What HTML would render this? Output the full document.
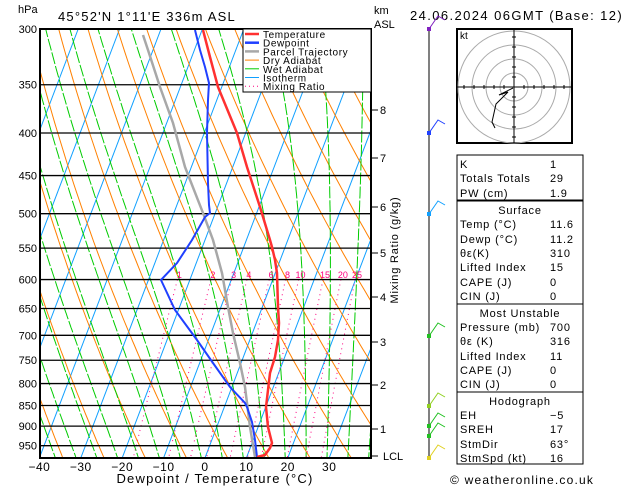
<!DOCTYPE html><html><head><style>
body{margin:0;background:#fff;font-family:"Liberation Sans",sans-serif}
svg text{font-family:"Liberation Sans",sans-serif}
</style></head><body>
<svg id="s" width="629" height="486" xmlns="http://www.w3.org/2000/svg">
<defs><clipPath id="c"><rect x="40" y="29" width="331" height="429"/></clipPath></defs>
<g id="bg" clip-path="url(#c)"></g>
<g id="fg"></g>
</svg>
<script>
var NS="http://www.w3.org/2000/svg",bg=document.getElementById('bg'),fg=document.getElementById('fg');
function Y(p){return 29+361.5*Math.log(p/300);}
function X(T,p){return 205+4.14*T+0.38*(458-Y(p));}
function el(par,tag,a,txt){var e=document.createElementNS(NS,tag);for(var k in a)e.setAttribute(k,a[k]);if(txt!=null)e.textContent=txt;par.appendChild(e);return e;}
function poly(par,pts,st,w,da){el(par,'polyline',{points:pts.map(function(q){return q[0].toFixed(1)+','+q[1].toFixed(1)}).join(' '),fill:'none',stroke:st,'stroke-width':w,'stroke-dasharray':da||'none'});}
for(var T=-120;T<=40;T+=10){var a=[];[300,1000].forEach(function(p){a.push([X(T,p),Y(p)])});poly(bg,a,'#10a0ff',1);}
for(var th=200;th<=480;th+=10){var a=[];for(var p=280;p<=1000;p+=10){var t=th*Math.pow(p/1000,0.286)-273.15;a.push([X(t,p),Y(p)]);}poly(bg,a,'#ff8000',1);}
function es(t){return 6.112*Math.exp(17.67*t/(t+243.5));}
function dTdp(T,p){var t=T-273.15,e=es(t),rs=0.622*e/(p-e),Rd=287,Lv=2.5e6,cp=1005;return (Rd*T+Lv*rs)/(p*(cp+Lv*Lv*rs*0.622/(Rd*T*T)));}
for(var tw=-40;tw<=40;tw+=5){var a=[],T=tw+273.15;for(var p=1000;p>=280;p-=5){a.push([X(T-273.15,p),Y(p)]);T-=5*dTdp(T,p);}poly(bg,a,'#00cc00',1,'12,2');}
var ws=[1,2,3,4,6,8,10,15,20,25];
ws.forEach(function(w){var a=[];for(var p=600;p<=1000;p+=10){var e=w*p/(622+w),l=Math.log(e/6.112),td=243.5*l/(17.67-l);a.push([X(td,p),Y(p)]);}poly(bg,a,'#ff0080',1,'1,4');
var e=w*600/(622+w),l=Math.log(e/6.112),td=243.5*l/(17.67-l);el(fg,'text',{x:X(td,600)+2,y:278,'font-size':9,fill:'#ff0080','text-anchor':'middle'},String(w));});
[300,350,400,450,500,550,600,650,700,750,800,850,900,950].forEach(function(p){el(fg,'line',{x1:40,x2:371,y1:Y(p),y2:Y(p),stroke:'#000','stroke-width':1.3});el(fg,'text',{x:37,y:Y(p)+4,'font-size':11,'text-anchor':'end'},String(p));});
poly(fg,[[255,457],[250,427],[245,387],[240,363],[233,333],[228,307],[222,273],[213,240],[203,213],[185,167],[173,123],[160,87],[148,50],[143,35]],'#a8a8a8',2.5);
poly(fg,[[257,457],[255,440],[252,422],[247,407],[245,403],[230,387],[213,363],[197,340],[175,310],[161,280],[177,263],[192,240],[205,217],[210,213],[209,205],[208,183],[207,133],[208,100],[209,83],[205,67],[200,50],[195,30]],'#2040ff',2);
poly(fg,[[257,457],[265,455],[270,448],[272,443],[268,427],[266,407],[268,390],[270,373],[275,357],[278,340],[279,323],[278,307],[277,273],[275,260],[272,247],[270,240],[260,207],[247,167],[237,133],[218,87],[210,57],[203,30]],'#ff3030',2.5);
el(fg,'rect',{x:40,y:29,width:331,height:429,fill:'none',stroke:'#000','stroke-width':2});
for(var T=-40;T<=30;T+=10){var x=205+4.14*T;el(fg,'text',{x:x,y:471,'font-size':12,'text-anchor':'middle','letter-spacing':'0.5'},(T<0?'\u2212':'')+Math.abs(T));}
el(fg,'text',{x:215,y:483,'font-size':13,'text-anchor':'middle','letter-spacing':'1.2'},'Dewpoint / Temperature (°C)');
el(fg,'text',{x:18,y:13,'font-size':11},'hPa');
el(fg,'text',{x:58,y:21,'font-size':13,'letter-spacing':'1.2'},"45°52'N  1°11'E  336m  ASL");
el(fg,'text',{x:374,y:14,'font-size':11},'km');
el(fg,'text',{x:374,y:28,'font-size':11},'ASL');
el(fg,'text',{x:410,y:20,'font-size':13,'letter-spacing':'1.4'},'24.06.2024  06GMT  (Base: 12)');
[[8,110],[7,158],[6,207],[5,253],[4,297],[3,342],[2,385],[1,429]].forEach(function(k){el(fg,'line',{x1:371,x2:378,y1:k[1],y2:k[1],stroke:'#000'});el(fg,'text',{x:380,y:k[1]+4,'font-size':11},String(k[0]));});
el(fg,'line',{x1:371,x2:378,y1:456,y2:456,stroke:'#000'});el(fg,'text',{x:383,y:460,'font-size':11},'LCL');
el(fg,'text',{x:398,y:250,'font-size':11,'text-anchor':'middle','letter-spacing':'0.8',transform:'rotate(-90 398 250)'},'Mixing Ratio (g/kg)');
el(fg,'rect',{x:243,y:29,width:128,height:63,fill:'#fff',stroke:'#000','stroke-width':1});
[['Temperature','#ff3030',2.5,''],['Dewpoint','#2040ff',2.5,''],['Parcel Trajectory','#a8a8a8',2.5,''],['Dry Adiabat','#ff8000',1,''],['Wet Adiabat','#00cc00',1,''],['Isotherm','#10a0ff',1,''],['Mixing Ratio','#ff0080',1,'1,3']].forEach(function(l,i){var y=34+i*8.7;el(fg,'line',{x1:245,x2:259,y1:y,y2:y,stroke:l[1],'stroke-width':l[2],'stroke-dasharray':l[3]||'none'});el(fg,'text',{x:263,y:y+4,'font-size':10,'letter-spacing':'0.6'},l[0]);});
el(fg,'line',{x1:429,x2:429,y1:29,y2:458,stroke:'#000'});
[[29,'#8020c0'],[133,'#2040ff'],[214,'#10a0ff'],[336,'#20c020'],[406,'#90d020'],[426,'#20c020'],[436,'#20c020'],[458,'#e0d020']].forEach(function(b){el(fg,'rect',{x:427,y:b[0]-2,width:4,height:4,fill:b[1]});poly(fg,[[429,b[0]],[438,b[0]-13],[445,b[0]-9]],b[1],1);});
el(fg,'rect',{x:457,y:29,width:115,height:114,fill:'#fff',stroke:'#000','stroke-width':2});
var hc=[514,87];[14,28,42,56].forEach(function(r){el(fg,'circle',{cx:hc[0],cy:hc[1],r:r,fill:'none',stroke:'#aaa'});});
el(fg,'line',{x1:457,x2:572,y1:87,y2:87,stroke:'#000'});el(fg,'line',{x1:514,x2:514,y1:29,y2:143,stroke:'#000'});
for(var i=-5;i<=5;i++){el(fg,'line',{x1:514+i*10,x2:514+i*10,y1:85,y2:89,stroke:'#000'});el(fg,'line',{y1:87+i*10,y2:87+i*10,x1:512,x2:516,stroke:'#000'});}
el(fg,'text',{x:460,y:39,'font-size':10},'kt');
poly(fg,[[513,88],[499,95],[508,92],[496,104],[492,122],[495,128]],'#000',1);
function box(y,h){el(fg,'rect',{x:457,y:y,width:126,height:h,fill:'none',stroke:'#000'});}
box(155,45);box(201,103);box(304,88);box(392,72);
function row(y,a,b){el(fg,'text',{x:460,y:y,'font-size':11,'letter-spacing':'0.8'},a);el(fg,'text',{x:550,y:y,'font-size':11,'letter-spacing':'0.8'},b);}
function hdr(y,t){el(fg,'text',{x:520,y:y,'font-size':11,'text-anchor':'middle','letter-spacing':'0.8'},t);}
row(168,'K','1');row(182,'Totals Totals','29');row(197,'PW (cm)','1.9');
hdr(214,'Surface');row(228,'Temp (°C)','11.6');row(243,'Dewp (°C)','11.2');row(257,'θε(K)','310');row(271,'Lifted Index','15');row(286,'CAPE (J)','0');row(300,'CIN (J)','0');
hdr(317,'Most Unstable');row(331,'Pressure (mb)','700');row(345,'θε (K)','316');row(360,'Lifted Index','11');row(374,'CAPE (J)','0');row(388,'CIN (J)','0');
hdr(405,'Hodograph');row(419,'EH','\u22125');row(433,'SREH','17');row(448,'StmDir','63°');row(462,'StmSpd (kt)','16');
el(fg,'text',{x:450,y:484,'font-size':12,'letter-spacing':'1.2'},'© weatheronline.co.uk');
</script></body></html>
